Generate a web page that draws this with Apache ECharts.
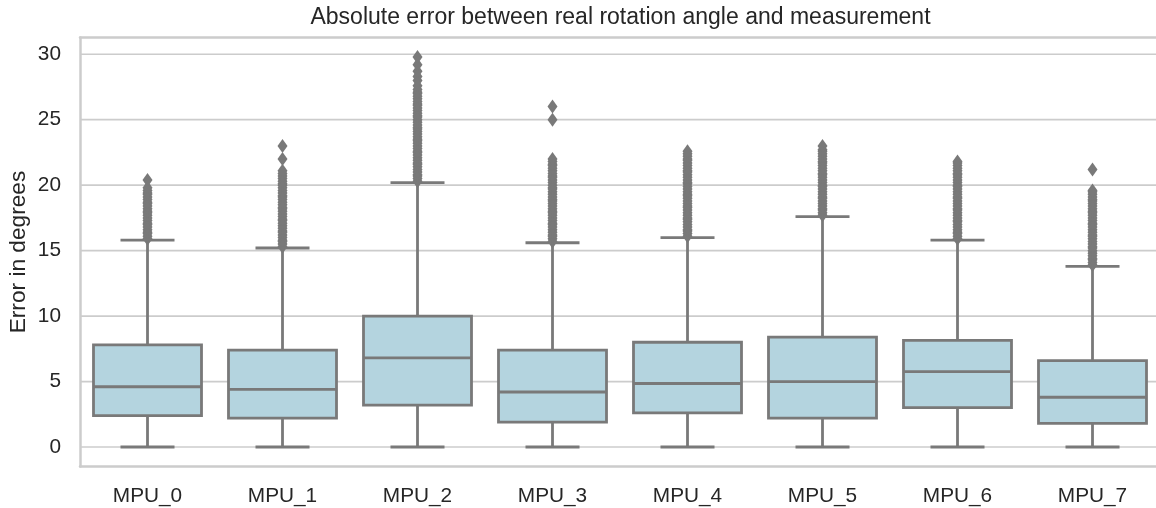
<!DOCTYPE html>
<html>
<head>
<meta charset="utf-8">
<script src="https://cdn.jsdelivr.net/npm/echarts@6/dist/echarts.min.js"></script>
<style>
  html, body { margin: 0; padding: 0; background: #ffffff; }
  #chart { width: 1156px; height: 508px; }
</style>
</head>
<body>
<div id="chart"></div>
<script>
// Sensor names along the x axis
const categories = ['MPU_0', 'MPU_1', 'MPU_2', 'MPU_3', 'MPU_4', 'MPU_5', 'MPU_6', 'MPU_7'];

// Box statistics per sensor (degrees)
const whiskerLow  = [0, 0, 0, 0, 0, 0, 0, 0];
const quartile1   = [2.4, 2.2, 3.2, 1.9, 2.6, 2.2, 3.0, 1.8];
const medians     = [4.6, 4.4, 6.8, 4.2, 4.85, 5.0, 5.75, 3.8];
const quartile3   = [7.8, 7.4, 10.0, 7.4, 8.0, 8.4, 8.15, 6.6];
const whiskerHigh = [15.8, 15.2, 20.2, 15.6, 16.0, 17.6, 15.8, 13.8];

// Outliers above the upper whisker, per sensor
const outliers0 = [15.9, 16.1, 16.3, 16.4, 16.6, 16.8, 17.0, 17.1, 17.3, 17.5, 17.7, 17.9, 18.0, 18.2, 18.4, 18.6, 18.7, 18.9, 19.1, 19.3, 19.4, 19.6, 19.8, 20.4];
const outliers1 = [15.3, 15.5, 15.7, 15.8, 16.0, 16.2, 16.4, 16.5, 16.7, 16.9, 17.1, 17.3, 17.4, 17.6, 17.8, 18.0, 18.2, 18.3, 18.5, 18.7, 18.9, 19.1, 19.2, 19.4, 19.6, 19.8, 20.0, 20.1, 20.3, 20.5, 20.7, 20.9, 21.1, 22.0, 23.0];
const outliers2 = [20.3, 20.5, 20.7, 20.8, 21.0, 21.2, 21.4, 21.6, 21.7, 21.9, 22.1, 22.3, 22.5, 22.6, 22.8, 23.0, 23.2, 23.4, 23.5, 23.7, 23.9, 24.1, 24.3, 24.4, 24.6, 24.8, 25.0, 25.2, 25.3, 25.5, 25.7, 25.9, 26.1, 26.2, 26.4, 26.6, 26.8, 27.0, 27.1, 27.3, 27.6, 28.0, 28.3, 28.7, 29.2, 29.8];
const outliers3 = [15.7, 15.9, 16.1, 16.2, 16.4, 16.6, 16.8, 17.0, 17.1, 17.3, 17.5, 17.7, 17.9, 18.0, 18.2, 18.4, 18.6, 18.8, 18.9, 19.1, 19.3, 19.5, 19.7, 19.8, 20.0, 20.2, 20.4, 20.6, 20.7, 20.9, 21.1, 21.3, 21.5, 21.6, 21.8, 22.0, 25.0, 26.0];
const outliers4 = [16.1, 16.3, 16.5, 16.6, 16.8, 17.0, 17.2, 17.4, 17.5, 17.7, 17.9, 18.1, 18.3, 18.4, 18.6, 18.8, 19.0, 19.2, 19.3, 19.5, 19.7, 19.9, 20.1, 20.2, 20.4, 20.6, 20.8, 21.0, 21.1, 21.3, 21.5, 21.7, 21.9, 22.0, 22.2, 22.4, 22.6];
const outliers5 = [17.7, 17.9, 18.1, 18.2, 18.4, 18.6, 18.8, 19.0, 19.1, 19.3, 19.5, 19.7, 19.9, 20.0, 20.2, 20.4, 20.6, 20.8, 20.9, 21.1, 21.3, 21.5, 21.7, 21.8, 22.0, 22.2, 22.4, 22.6, 22.7, 23.0];
const outliers6 = [15.9, 16.1, 16.3, 16.4, 16.6, 16.8, 17.0, 17.2, 17.3, 17.5, 17.7, 17.9, 18.1, 18.2, 18.4, 18.6, 18.8, 19.0, 19.1, 19.3, 19.5, 19.7, 19.9, 20.0, 20.2, 20.4, 20.6, 20.8, 20.9, 21.1, 21.3, 21.5, 21.7, 21.8];
const outliers7 = [13.9, 14.1, 14.3, 14.4, 14.6, 14.8, 15.0, 15.2, 15.3, 15.5, 15.7, 15.9, 16.1, 16.2, 16.4, 16.6, 16.8, 17.0, 17.1, 17.3, 17.5, 17.7, 17.9, 18.0, 18.2, 18.4, 18.6, 18.8, 18.9, 19.1, 19.3, 19.5, 19.6, 21.2];

// Y tick values
const yTicks = [0, 5, 10, 15, 20, 25, 30];

const outlierLists = [outliers0, outliers1, outliers2, outliers3, outliers4, outliers5, outliers6, outliers7];

const boxData = categories.map((c, i) => [i, whiskerLow[i], quartile1[i], medians[i], quartile3[i], whiskerHigh[i]]);
const outlierData = [];
outlierLists.forEach((list, i) => list.forEach(v => outlierData.push([i, v])));

const FONT = '"Liberation Sans", Arial, sans-serif';
const LINE = '#797979';
const FILL = '#b4d4df';
const GRID = '#cccccc';
const LW = 2.8;
const SPINE = { show: true, onZero: false, lineStyle: { color: GRID, width: 2.5 } };

// Horizontal grid lines at each y tick, spanning the whole plot width
function renderGridLine(params, api) {
  const y = api.coord([0, api.value(0)])[1];
  const cs = params.coordSys;
  return {
    type: 'line',
    shape: { x1: cs.x, y1: y, x2: cs.x + cs.width, y2: y },
    style: { stroke: GRID, lineWidth: 1.7 }
  };
}

// Whiskers, caps, box and median line for one sensor
function renderBox(params, api) {
  const idx = api.value(0);
  const band = api.size([1, 0])[0];
  const half = band * 0.4;
  const capHalf = half * 0.5;
  const pLow = api.coord([idx, api.value(1)]);
  const pQ1 = api.coord([idx, api.value(2)]);
  const pMed = api.coord([idx, api.value(3)]);
  const pQ3 = api.coord([idx, api.value(4)]);
  const pHigh = api.coord([idx, api.value(5)]);
  const x = pQ1[0];
  const ls = { stroke: LINE, lineWidth: LW, fill: null };
  return {
    type: 'group',
    children: [
      { type: 'line', shape: { x1: x, y1: pLow[1], x2: x, y2: pQ1[1] }, style: ls },
      { type: 'line', shape: { x1: x, y1: pQ3[1], x2: x, y2: pHigh[1] }, style: ls },
      { type: 'line', shape: { x1: x - capHalf, y1: pLow[1], x2: x + capHalf, y2: pLow[1] }, style: ls },
      { type: 'line', shape: { x1: x - capHalf, y1: pHigh[1], x2: x + capHalf, y2: pHigh[1] }, style: ls },
      { type: 'rect', shape: { x: x - half, y: pQ3[1], width: half * 2, height: pQ1[1] - pQ3[1] },
        style: { fill: FILL, stroke: LINE, lineWidth: LW } },
      { type: 'line', shape: { x1: x - half, y1: pMed[1], x2: x + half, y2: pMed[1] }, style: ls }
    ]
  };
}

const chart = echarts.init(document.getElementById('chart'), null, { renderer: 'canvas' });

chart.setOption({
  backgroundColor: '#ffffff',
  animation: false,
  textStyle: { fontFamily: FONT },
  graphic: [{
    type: 'text',
    x: 620.5,
    y: 18,
    style: {
      text: 'Absolute error between real rotation angle and measurement',
      font: '23px ' + FONT,
      fill: '#262626',
      textAlign: 'center',
      textVerticalAlign: 'middle'
    }
  }],
  grid: {
    left: 80,
    top: 37.5,
    width: 1080,
    bottom: 41.5,
    outerBoundsMode: 'none',
    containLabel: false,
    show: false
  },
  xAxis: [
    {
      type: 'category',
      data: categories,
      boundaryGap: true,
      position: 'bottom',
      axisLine: SPINE,
      axisTick: { show: false },
      splitLine: { show: false },
      axisLabel: { color: '#262626', fontSize: 20.8, fontFamily: FONT, margin: 19 }
    },
    {
      // top spine only
      type: 'category',
      data: categories,
      position: 'top',
      axisLine: SPINE,
      axisTick: { show: false },
      axisLabel: { show: false },
      splitLine: { show: false }
    }
  ],
  yAxis: {
    type: 'value',
    min: -1.49,
    max: 31.28,
    name: 'Error in degrees',
    nameLocation: 'middle',
    nameGap: 50,
    nameMoveOverlap: false,
    nameTextStyle: { color: '#262626', fontSize: 22.7, fontFamily: FONT },
    axisLine: SPINE,
    axisTick: { show: false },
    splitLine: { show: false },
    axisLabel: {
      color: '#262626',
      fontSize: 20.8,
      fontFamily: FONT,
      margin: 19,
      customValues: yTicks
    }
  },
  series: [
    {
      type: 'custom',
      renderItem: renderGridLine,
      data: yTicks.map(v => [v]),
      encode: { y: 0 },
      z: 1,
      silent: true
    },
    {
      type: 'custom',
      renderItem: renderBox,
      data: boxData,
      encode: { x: 0, y: [1, 2, 3, 4, 5] },
      z: 3,
      silent: true
    },
    {
      type: 'scatter',
      data: outlierData,
      symbol: 'diamond',
      symbolSize: [10, 14],
      itemStyle: { color: LINE, opacity: 1 },
      z: 4,
      silent: true
    }
  ]
});
</script>
</body>
</html>
